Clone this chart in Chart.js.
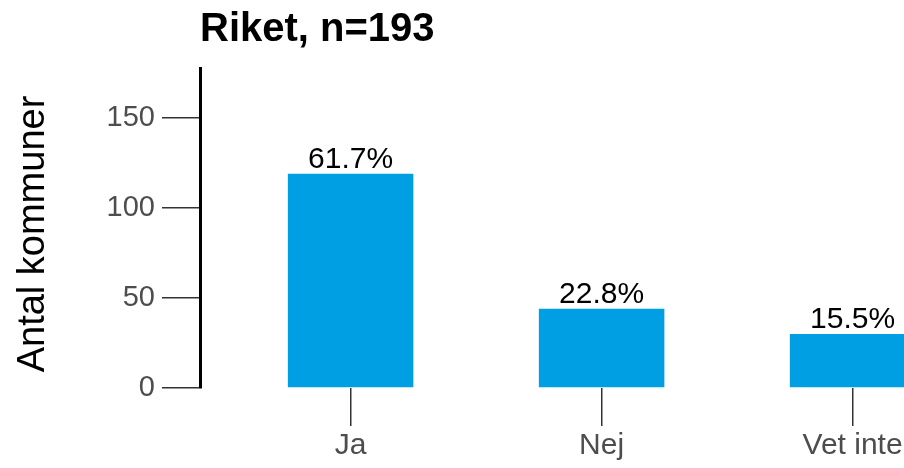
<!DOCTYPE html>
<html>
<head>
<meta charset="utf-8">
<script src="https://cdn.jsdelivr.net/npm/chart.js@4/dist/chart.umd.min.js"></script>
<style>
  html, body { margin: 0; padding: 0; background: #fff; overflow: hidden; }
  #wrap { position: relative; width: 1010px; height: 468px; }
</style>
</head>
<body>
<div id="wrap"><canvas id="myChart"></canvas></div>
<script>
// Svar per kategori (antal kommuner) och andel av n=193
const categories = ["Ja", "Nej", "Vet inte"];
const counts = [119, 44, 30];
const shares = ["61.7%", "22.8%", "15.5%"];
const yTicks = [0, 50, 100, 150];
const titleText = "Riket, n=193";
const yTitle = "Antal kommuner";

const FONT = "'Liberation Sans', Arial, Helvetica, sans-serif";
const barColor = "#009fe3";

Chart.defaults.font.family = FONT;

// Write the percentage above each bar
const shareLabels = {
  id: "shareLabels",
  afterDatasetsDraw(chart) {
    const ctx = chart.ctx;
    const meta = chart.getDatasetMeta(0);
    ctx.save();
    ctx.font = "30px " + FONT;
    ctx.fillStyle = "#000";
    ctx.textAlign = "center";
    ctx.textBaseline = "alphabetic";
    meta.data.forEach((bar, i) => {
      ctx.fillText(shares[i], bar.x, bar.y - 6);
    });
    ctx.restore();
  }
};

// Rotated y axis title, placed a bit below the middle of the plot
const yTitleLabel = {
  id: "yTitleLabel",
  afterDraw(chart) {
    const ctx = chart.ctx;
    const area = chart.chartArea;
    ctx.save();
    ctx.translate(34, (area.top + area.bottom) / 2 + 6);
    ctx.rotate(-Math.PI / 2);
    ctx.font = "38px " + FONT;
    ctx.fillStyle = "#000";
    ctx.textAlign = "center";
    ctx.textBaseline = "middle";
    ctx.fillText(yTitle, 0, 0);
    ctx.restore();
  }
};

const ctx = document.getElementById("myChart").getContext("2d");
new Chart(ctx, {
  type: "bar",
  data: {
    datasets: [{
      data: counts.map((c, i) => ({ x: i + 1, y: c })),
      backgroundColor: barColor,
      borderWidth: 0,
      barPercentage: 0.5,
      categoryPercentage: 1
    }]
  },
  options: {
    responsive: true,
    maintainAspectRatio: false,
    animation: false,
    layout: { padding: { left: 0, right: 6.8, top: 0, bottom: 0 } },
    plugins: {
      legend: { display: false },
      tooltip: { enabled: false },
      title: {
        display: true,
        text: titleText,
        align: "start",
        fullSize: false,
        color: "#000",
        font: { size: 40, weight: "bold", family: FONT },
        padding: { top: 6, bottom: 14 }
      }
    },
    scales: {
      x: {
        type: "linear",
        min: 0.4,
        max: 3.6,
        offset: false,
        afterBuildTicks: (scale) => {
          scale.ticks = categories.map((c, i) => ({ value: i + 1 }));
        },
        afterFit: (scale) => { scale.height = 80; },
        ticks: {
          callback: (v) => categories[v - 1],
          color: "#4d4d4d",
          font: { size: 30 },
          padding: 2,
          maxRotation: 0
        },
        grid: {
          offset: false,
          drawOnChartArea: false,
          drawTicks: true,
          tickLength: 38,
          color: "#333",
          lineWidth: 1.5
        },
        border: { display: false }
      },
      y: {
        min: 0,
        max: 177.8,
        afterBuildTicks: (scale) => {
          scale.ticks = yTicks.map((v) => ({ value: v }));
        },
        afterFit: (scale) => { scale.width = 200; },
        ticks: {
          color: "#4d4d4d",
          font: { size: 29 },
          padding: 7
        },
        grid: {
          drawOnChartArea: false,
          drawTicks: true,
          tickLength: 38,
          color: "#333",
          lineWidth: 1.5
        },
        border: { display: true, color: "#000", width: 3 }
      }
    }
  },
  plugins: [shareLabels, yTitleLabel]
});
</script>
</body>
</html>
